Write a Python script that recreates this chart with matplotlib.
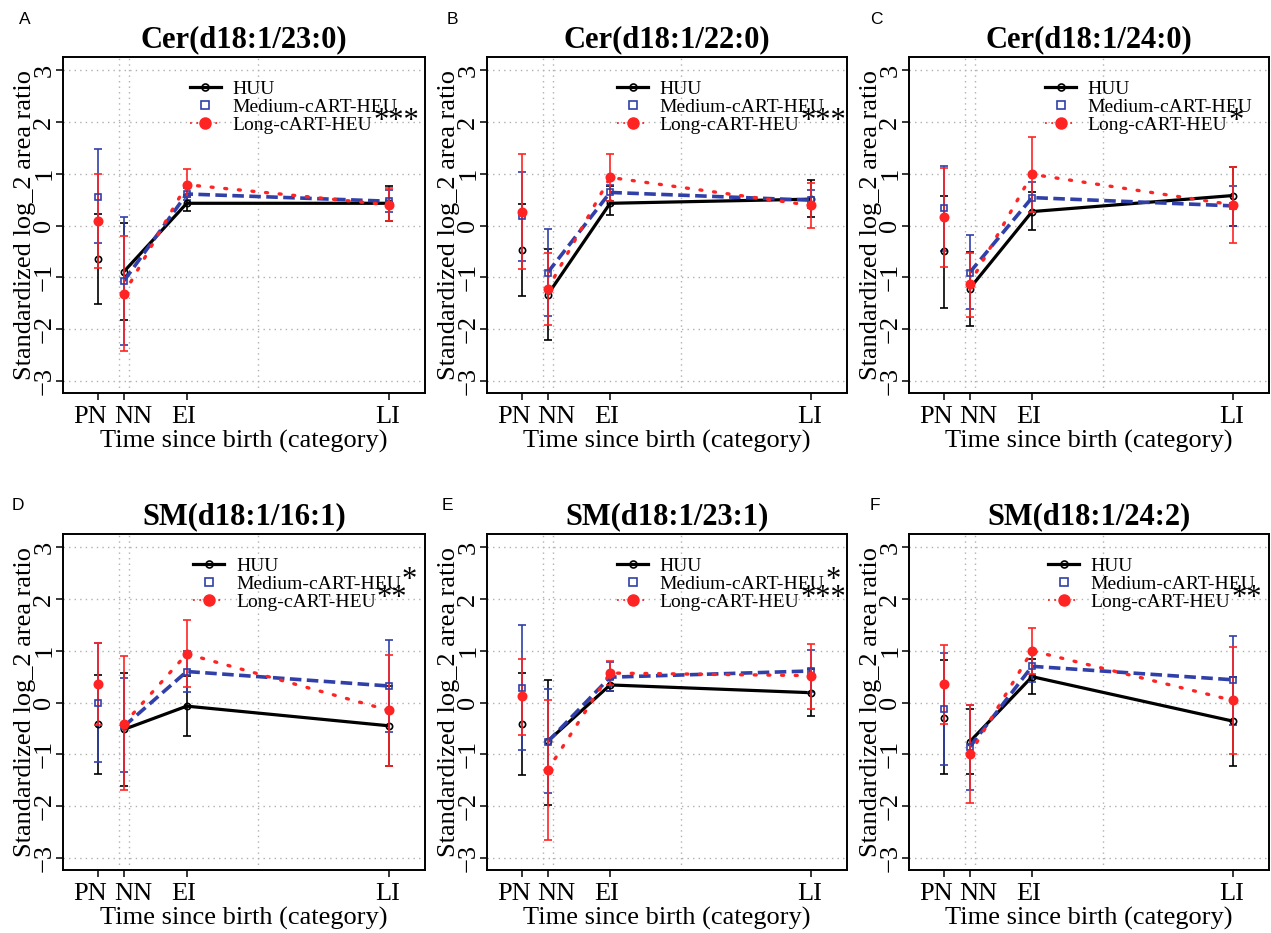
import matplotlib
matplotlib.use("Agg")
import matplotlib.pyplot as plt
from matplotlib.lines import Line2D

plt.rcParams['font.family'] = ['Liberation Serif', 'DejaVu Serif']

# categories and their place on the time axis
categories = ["PN", "NN", "EI", "LI"]
time_pos = [0, 1, 3.42, 11.2]
label_pos = [-0.31, 1.35, 3.3, 11.15]   # labels are nudged apart so PN / NN don't collide
grid_x = [0.81, 1.19, 6.15]

titles = ["Cer(d18:1/23:0)", "Cer(d18:1/22:0)", "Cer(d18:1/24:0)",
          "SM(d18:1/16:1)", "SM(d18:1/23:1)", "SM(d18:1/24:2)"]
letters = ["A", "B", "C", "D", "E", "F"]

# significance stars next to legend entries (medium, long)
med_stars = ["", "", "", "*", "*", ""]
long_stars = ["***", "***", "*", "**", "***", "**"]

# HUU
huu_mean = [[-0.65, -0.89, 0.43, 0.43], [-0.47, -1.34, 0.43, 0.51], [-0.50, -1.22, 0.27, 0.58],
            [-0.42, -0.52, -0.07, -0.45], [-0.42, -0.75, 0.34, 0.19], [-0.29, -0.76, 0.50, -0.36]]
huu_lo = [[-1.51, -1.83, 0.28, 0.08], [-1.36, -2.21, 0.20, 0.16], [-1.59, -1.94, -0.08, 0.00],
          [-1.39, -1.62, -0.65, -1.22], [-1.41, -1.98, 0.22, -0.27], [-1.39, -1.39, 0.17, -1.23]]
huu_hi = [[0.22, 0.04, 0.60, 0.76], [0.42, -0.45, 0.76, 0.89], [0.58, -0.52, 0.64, 1.14],
          [0.54, 0.57, 0.52, 0.32], [0.57, 0.44, 0.46, 0.65], [0.82, -0.12, 0.85, 0.49]]

# Medium-cART-HEU
med_mean = [[0.56, -1.07, 0.61, 0.47], [0.18, -0.91, 0.64, 0.49], [0.33, -0.91, 0.54, 0.38],
            [0.00, -0.46, 0.60, 0.32], [0.29, -0.76, 0.49, 0.61], [-0.12, -0.86, 0.70, 0.44]]
med_lo = [[-0.34, -2.32, 0.50, 0.27], [-0.68, -1.76, 0.47, 0.34], [-0.50, -1.61, 0.26, 0.00],
          [-1.15, -1.35, 0.20, -0.57], [-0.92, -1.76, 0.22, 0.20], [-1.20, -1.69, 0.40, -0.43]]
med_hi = [[1.48, 0.16, 0.72, 0.69], [1.03, -0.07, 0.79, 0.68], [1.15, -0.19, 0.85, 0.77],
          [1.15, 0.47, 1.00, 1.20], [1.49, 0.27, 0.78, 1.02], [0.96, -0.05, 1.00, 1.29]]

# Long-cART-HEU
long_mean = [[0.08, -1.32, 0.79, 0.40], [0.27, -1.23, 0.93, 0.39], [0.16, -1.13, 0.99, 0.40],
             [0.36, -0.41, 0.94, -0.15], [0.12, -1.31, 0.57, 0.52], [0.35, -1.00, 1.00, 0.04]]
long_lo = [[-0.83, -2.43, 0.56, 0.08], [-0.85, -1.92, 0.47, -0.05], [-0.80, -1.77, 0.26, -0.34],
           [-0.43, -1.69, 0.30, -1.22], [-0.62, -2.65, 0.33, -0.12], [-0.41, -1.95, 0.56, -0.99]]
long_hi = [[1.00, -0.21, 1.10, 0.72], [1.39, -0.54, 1.39, 0.82], [1.12, -0.53, 1.71, 1.14],
           [1.15, 0.90, 1.59, 0.92], [0.85, 0.04, 0.81, 1.14], [1.12, -0.05, 1.45, 1.08]]

BLACK = "black"
BLUE = "#3040A8"
RED = "#FF2424"

W, H = 1271, 933
# axes boxes in pixels (left, top, right, bottom)
boxes = [(63, 57, 425, 393), (487, 57, 847, 393), (909, 57, 1269, 393),
         (63, 534, 425, 870), (487, 534, 847, 870), (909, 534, 1269, 870)]
legend_x = [0.35, 0.361, 0.378, 0.36, 0.361, 0.386]
letter_xy = [(25, 19), (452, 19), (876, 19), (18, 505), (447, 505), (875, 505)]

fig = plt.figure(figsize=(W / 100, H / 100), dpi=100)
star_jobs = []

for i in range(6):
    l, t, r, b = boxes[i]
    ax = fig.add_axes([l / W, 1 - b / H, (r - l) / W, (b - t) / H])

    for gy in range(-3, 4):
        ax.axhline(gy, color="#b0b0b0", lw=1.0, ls=(0, (1, 3)), zorder=0)
    for gx in grid_x:
        ax.axvline(gx, color="#b0b0b0", lw=1.0, ls=(0, (1, 3)), zorder=0)

    series = [
        (huu_mean[i], huu_lo[i], huu_hi[i], BLACK, "-", 2.3, "o", 4.5, "none"),
        (med_mean[i], med_lo[i], med_hi[i], BLUE, (0, (3.2, 1.5)), 2.6, "s", 4.5, "none"),
        (long_mean[i], long_lo[i], long_hi[i], RED, (0, (0.6, 3.5)), 2.4, "o", 6, RED),
    ]
    for k, (m, lo, hi, col, ls, lw, mk, ms, mfc) in enumerate(series):
        yerr = [[m[j] - lo[j] for j in range(4)], [hi[j] - m[j] for j in range(4)]]
        ax.errorbar(time_pos, m, yerr=yerr, fmt="none", ecolor=col, elinewidth=1.2,
                    capsize=3, capthick=1.2, zorder=2 + k)
        ax.plot(time_pos[1:], m[1:], color=col, ls=ls, lw=lw, solid_capstyle="butt",
                dash_capstyle="round" if k == 2 else "butt", zorder=3 + k)
        ax.plot(time_pos, m, ls="none", marker=mk, ms=ms, mfc=mfc, mec=col, mew=1.2,
                zorder=4 + k)

    ax.set_xlim(-1.35, 12.6)
    ax.set_ylim(-3.24, 3.26)
    # tick marks at the real positions, labels slightly apart
    ax.set_xticks(time_pos)
    ax.set_xticklabels([])
    ax.set_xticks(label_pos, minor=True)
    ax.set_xticklabels(categories, minor=True)
    ax.tick_params(axis="x", which="minor", length=0, labelsize=19, pad=9.5)
    ax.set_yticks(range(-3, 4))
    ax.tick_params(axis="both", which="major", direction="out", length=5, width=1.1,
                   labelsize=19)
    ax.tick_params(axis="y", labelrotation=90, pad=0.5)
    for lab in ax.get_yticklabels():
        lab.set_va("center")
    for sp in ax.spines.values():
        sp.set_linewidth(1.4)

    ax.set_xlabel("Time since birth (category)", fontsize=19, labelpad=1.5)
    ax.set_ylabel("Standardized log_2 area ratio", fontsize=19, labelpad=-2)
    ax.set_title(titles[i], fontsize=22, fontweight="bold", pad=7)

    handles = [
        Line2D([], [], color=BLACK, lw=2.3, marker="o", ms=5, mfc="none", mew=1.2),
        Line2D([], [], color=BLUE, ls="none", marker="s", ms=6, mfc="none", mew=1.2),
        Line2D([], [], color=RED, lw=1.3, ls=(0, (1, 2.5)), marker="o", ms=8, mfc=RED),
    ]
    leg = ax.legend(handles, ["HUU", "Medium-cART-HEU", "Long-cART-HEU"],
                    loc="upper left", bbox_to_anchor=(legend_x[i], 0.93),
                    frameon=False, fontsize=14, handlelength=1.6, handletextpad=0.6,
                    labelspacing=0.02, borderpad=0, borderaxespad=0)
    texts = leg.get_texts()
    star_jobs.append((texts[1], med_stars[i]))
    star_jobs.append((texts[2], long_stars[i]))

    fig.text(letter_xy[i][0] / W, 1 - letter_xy[i][1] / H, letters[i],
             fontsize=12.5, family="Liberation Sans", ha="center", va="center")

# stars go right after the legend text, so measure it first
fig.canvas.draw()
renderer = fig.canvas.get_renderer()
for txt, st in star_jobs:
    if not st:
        continue
    bb = txt.get_window_extent(renderer)
    fig.text((bb.x1 + 1) / W, ((bb.y0 + bb.y1) / 2 + 4) / H, st, fontsize=22,
             ha="left", va="center")

fig.savefig("out.png", dpi=100)
